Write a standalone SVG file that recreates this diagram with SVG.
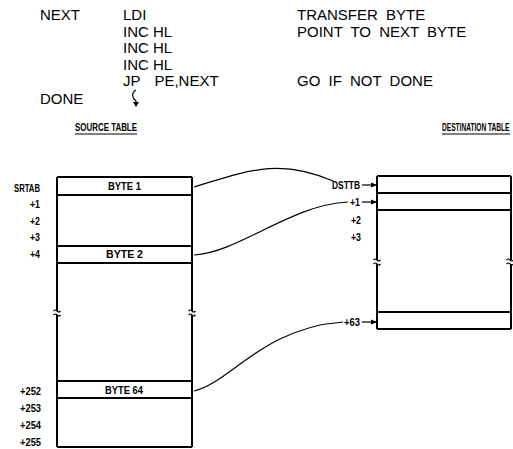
<svg xmlns="http://www.w3.org/2000/svg" width="513" height="449" viewBox="0 0 513 449">
<style>
.code{font-family:"Liberation Sans",Arial,sans-serif;font-size:15px;fill:#000}
.lbl{font-family:"Liberation Sans",Arial,sans-serif;font-size:11px;font-weight:bold;fill:#000}
.box{fill:none;stroke:#000;stroke-width:2}
.ln{fill:none;stroke:#000;stroke-width:1.2}
.brk{fill:none;stroke:#000;stroke-width:1.2}
.gap{fill:#fff;stroke:none}
</style>
<defs>
<marker id="ah" viewBox="0 0 10 10" refX="10" refY="5" markerWidth="6" markerHeight="6" orient="auto" markerUnits="userSpaceOnUse">
<path d="M0,1 L10,5 L0,9 z" fill="#000"/>
</marker>
<g id="brkmark">
<rect class="gap" x="-3" y="-2" width="6" height="4"/>
<path class="brk" d="M-3.5,-2 q1.75,-2 3.5,0 t3.5,0 M-3.5,2 q1.75,-2 3.5,0 t3.5,0"/>
</g>
</defs>
<rect width="513" height="449" fill="#fff"/>
<g id="code">
<text class="code" x="40" y="20">NEXT</text>
<text class="code" x="123" y="20">LDI</text>
<text class="code" x="123" y="37">INC HL</text>
<text class="code" x="123" y="53">INC HL</text>
<text class="code" x="123" y="70">INC HL</text>
<text class="code" x="123" y="86" word-spacing="10">JP PE,NEXT</text>
<text class="code" x="40" y="104">DONE</text>
<text class="code" x="297" y="20" word-spacing="4">TRANSFER BYTE</text>
<text class="code" x="297" y="37" word-spacing="4">POINT TO NEXT BYTE</text>
<text class="code" x="297" y="86" word-spacing="4">GO IF NOT DONE</text>
<path class="ln" d="M136,90 C131,93 132,98 136,101 L136,103"/>
<path d="M133,102 L139,102 L136,107 z" fill="#000"/>
</g>
<g id="source-table">
<text class="lbl" x="75" y="131" textLength="62" lengthAdjust="spacingAndGlyphs">SOURCE TABLE</text>
<line class="ln" x1="75" y1="134" x2="137" y2="134"/>
<path class="box" d="M57,177 H192 M57,195 H192 M57,246 H192 M57,263 H192 M57,381 H192 M57,398 H192 M57,447 H192 M57,177 V447 M192,177 V447"/>
<use href="#brkmark" x="57" y="313"/>
<use href="#brkmark" x="192" y="313"/>
<text class="lbl" x="108" y="190" textLength="33" lengthAdjust="spacingAndGlyphs">BYTE 1</text>
<text class="lbl" x="106" y="258" textLength="37" lengthAdjust="spacingAndGlyphs">BYTE 2</text>
<text class="lbl" x="105" y="394" textLength="38" lengthAdjust="spacingAndGlyphs">BYTE 64</text>
<text class="lbl" x="14" y="192" textLength="26" lengthAdjust="spacingAndGlyphs">SRTAB</text>
<text class="lbl" x="30" y="208" textLength="10" lengthAdjust="spacingAndGlyphs">+1</text>
<text class="lbl" x="30" y="225" textLength="10" lengthAdjust="spacingAndGlyphs">+2</text>
<text class="lbl" x="30" y="241" textLength="10" lengthAdjust="spacingAndGlyphs">+3</text>
<text class="lbl" x="30" y="258" textLength="10" lengthAdjust="spacingAndGlyphs">+4</text>
<text class="lbl" x="20" y="395" textLength="21" lengthAdjust="spacingAndGlyphs">+252</text>
<text class="lbl" x="20" y="412" textLength="21" lengthAdjust="spacingAndGlyphs">+253</text>
<text class="lbl" x="20" y="429" textLength="21" lengthAdjust="spacingAndGlyphs">+254</text>
<text class="lbl" x="20" y="446" textLength="21" lengthAdjust="spacingAndGlyphs">+255</text>
</g>
<g id="destination-table">
<text class="lbl" transform="translate(442,131) scale(0.6,1)" x="0" y="0">DESTINATION TABLE</text>
<line class="ln" x1="442" y1="134" x2="510" y2="134"/>
<path class="box" d="M377,176 H511 M377,193 H511 M377,210 H511 M377,312 H511 M377,329 H511 M377,176 V329 M511,176 V329"/>
<use href="#brkmark" x="377" y="262"/>
<use href="#brkmark" x="510" y="262"/>
<text class="lbl" x="332" y="189" textLength="28" lengthAdjust="spacingAndGlyphs">DSTTB</text>
<text class="lbl" x="350" y="206" textLength="10" lengthAdjust="spacingAndGlyphs">+1</text>
<text class="lbl" x="351" y="224" textLength="10" lengthAdjust="spacingAndGlyphs">+2</text>
<text class="lbl" x="351" y="241" textLength="10" lengthAdjust="spacingAndGlyphs">+3</text>
<text class="lbl" x="344" y="326" textLength="16" lengthAdjust="spacingAndGlyphs">+63</text>
</g>
<g id="connectors">
<path class="ln" d="M194,187 C250,170 280,158 333,181"/>
<path class="ln" d="M194,255 C240,252 290,205 348,202"/>
<path class="ln" d="M194,391 C230,383 262,328 343,322"/>
<line class="ln" x1="362" y1="185" x2="377" y2="185" marker-end="url(#ah)"/>
<line class="ln" x1="362" y1="202" x2="377" y2="202" marker-end="url(#ah)"/>
<line class="ln" x1="362" y1="322" x2="377" y2="322" marker-end="url(#ah)"/>
</g>
</svg>
